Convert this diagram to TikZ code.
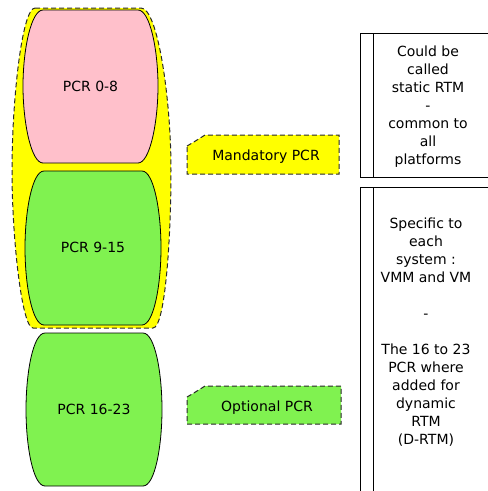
\documentclass[tikz,border=0pt]{standalone}
\usepackage{fontspec}
\setmainfont{DejaVu Sans}
\definecolor{pcrgreen}{RGB}{128,242,80}
\definecolor{pcrpink}{RGB}{255,192,203}
\definecolor{pcryellow}{RGB}{255,255,0}
\definecolor{dashgray}{RGB}{40,40,40}
\begin{document}
\begin{tikzpicture}[x=1pt,y=-1pt,
  barrel/.style={draw=black,line width=0.8pt},
  groupblob/.style={draw=dashgray,fill=pcryellow,line width=1pt,dash pattern=on 5pt off 3pt},
  tagbox/.style={draw=dashgray,line width=1pt,dash pattern=on 5pt off 3pt},
  lbl/.style={font=\fontsize{14}{18}\selectfont,text=black,inner sep=0pt},
  notetext/.style={font=\fontsize{14}{18}\selectfont,text=black,align=center,inner sep=0pt},
  column/.style={draw=black,line width=0.8pt}]
\useasboundingbox (0,0) rectangle (488,491);
\clip (0,0) rectangle (488,491);
% yellow group
\draw[groupblob] (35,8) -- (141,8) .. controls (158,8) and (171,100) .. (171,170)
  .. controls (171,240) and (165,328) .. (153,328) -- (33,328)
  .. controls (22,328) and (12,240) .. (12,170)
  .. controls (12,100) and (22,8) .. (35,8) -- cycle;
% PCR 0-8
\draw[barrel,fill=pcrpink] (43,10) -- (138,10) .. controls (150,10) and (158,50) .. (158,86)
  .. controls (158,122) and (150,163) .. (138,163) -- (43,163)
  .. controls (31,163) and (23,122) .. (23,86)
  .. controls (23,50) and (31,10) .. (43,10) -- cycle;
\node[lbl] (pcr08) at (90.5,86.5) {PCR 0-8};
% PCR 9-15
\draw[barrel,fill=pcrgreen] (44,171) -- (142,171) .. controls (154,171) and (161,212) .. (161,248)
  .. controls (161,284) and (154,325) .. (142,325) -- (44,325)
  .. controls (32,325) and (25,284) .. (25,248)
  .. controls (25,212) and (32,171) .. (44,171) -- cycle;
\node[lbl] (pcr915) at (93,247) {PCR 9-15};
% PCR 16-23
\draw[barrel,fill=pcrgreen] (45,333) -- (143,333) .. controls (155,333) and (162,373) .. (162,409.5)
  .. controls (162,446) and (155,486) .. (143,486) -- (45,486)
  .. controls (33,486) and (26,446) .. (26,409.5)
  .. controls (26,373) and (33,333) .. (45,333) -- cycle;
\node[lbl] (pcr1623) at (94,409) {PCR 16-23};
% tags
\draw[tagbox,fill=pcryellow] (187,146) -- (193,142.5) -- (205,135) -- (339,135) -- (339,174) -- (187,174) -- cycle;
\node[lbl] (mand) at (266,157) {Mandatory PCR};
\draw[tagbox,fill=pcrgreen] (187,397) -- (193,393.5) -- (205,386) -- (341,386) -- (341,424) -- (187,424) -- cycle;
\node[lbl] (opt) at (267,408) {Optional PCR};
% right columns
\draw[column] (500,33) -- (360,33) -- (360,177) -- (500,177);
\draw[column] (373,33) -- (373,177);
\draw[column] (500,187) -- (360,187) -- (360,500);
\draw[column] (373,187) -- (373,500);
\node[notetext] (note1) at (428,107) {Could be\\called\\static RTM\\-\\common to\\all\\platforms};
\node[notetext] (note2) at (426,332) {Specific to\\each\\ system :\\VMM and VM\\[18pt]-\\[18pt]The 16 to 23\\PCR where\\added for\\dynamic\\RTM\\(D-RTM)};
\end{tikzpicture}
\end{document}
